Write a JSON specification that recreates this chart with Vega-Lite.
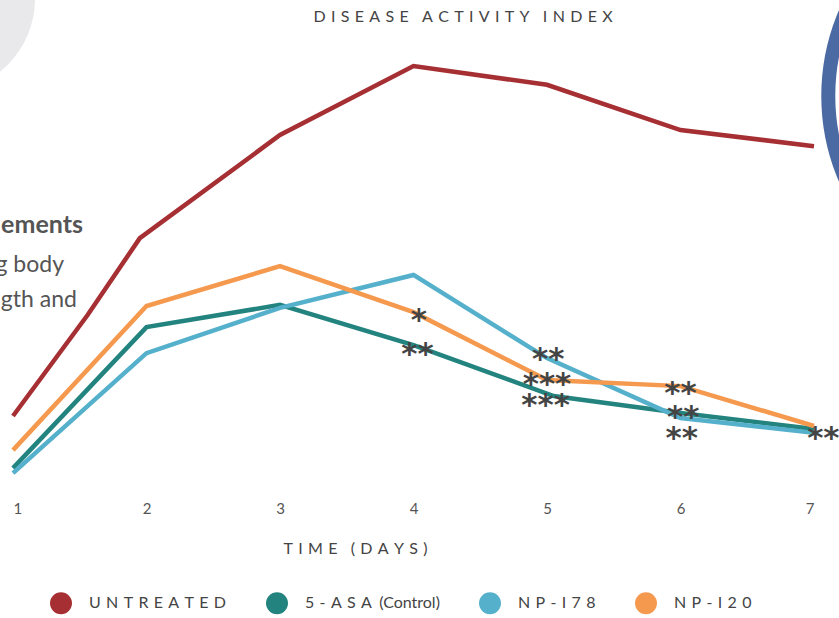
{
  "$schema": "https://vega.github.io/schema/vega-lite/v6.json",
  "width": 801,
  "height": 460,
  "autosize": {"type": "none"},
  "padding": {"left": 13, "top": 30, "right": 25, "bottom": 128},
  "background": "white",
  "config": {"view": {"stroke": null}, "font": "Lato"},
  "encoding": {
    "x": {
      "field": "day",
      "type": "quantitative",
      "scale": {"domain": [1, 7], "nice": false, "zero": false},
      "axis": {
        "values": [1, 2, 3, 4, 5, 6, 7],
        "format": "d",
        "domain": false,
        "ticks": false,
        "grid": false,
        "labelFont": "Lato",
        "labelFontSize": 15,
        "labelColor": "#555555",
        "labelPadding": 11,
        "labelBaseline": "top",
        "title": "T\u2004I\u2004M\u2004E\u2002\u2004(\u2004D\u2004A\u2004Y\u2004S\u2004)",
        "titleFont": "Lato",
        "titleFontSize": 16,
        "titleFontWeight": "normal",
        "titleColor": "#444444",
        "titleX": 342,
        "titleY": 63,
        "titleAlign": "center",
        "titleBaseline": "alphabetic"
      }
    },
    "y": {
      "field": "dai",
      "type": "quantitative",
      "scale": {"domain": [0, 12], "nice": false, "zero": false},
      "axis": null
    }
  },
  "layer": [
    {
      "data": {"values": [{"day": 0.468, "dai": 12.81}]},
      "mark": {"type": "point", "shape": "circle", "filled": true, "color": "#e9e8ea", "opacity": 1, "size": 34596}
    },
    {
      "data": {"values": [{"day": 8.68, "dai": 10.28}]},
      "mark": {"type": "point", "shape": "circle", "filled": false, "color": "#4b6aa3", "strokeWidth": 14, "opacity": 1, "size": 176400}
    },
    {
      "data": {"values": [{"day": 4.371, "dai": 12.21, "txt": "D\u2004I\u2004S\u2004E\u2004A\u2004S\u2004E\u2002\u2004A\u2004C\u2004T\u2004I\u2004V\u2004I\u2004T\u2004Y\u2002\u2004I\u2004N\u2004D\u2004E\u2004X"}]},
      "mark": {"type": "text", "align": "center", "baseline": "alphabetic", "font": "Lato", "fontSize": 16, "color": "#444444"},
      "encoding": {"text": {"field": "txt", "type": "nominal"}}
    },
    {
      "data": {"values": [{"day": 1.524, "dai": 6.7, "txt": "ements"}]},
      "mark": {"type": "text", "align": "right", "baseline": "alphabetic", "font": "Lato", "fontSize": 25, "fontWeight": "bold", "color": "#555555"},
      "encoding": {"text": {"field": "txt", "type": "nominal"}}
    },
    {
      "data": {"values": [{"day": 1.382, "dai": 5.69, "txt": "g body"}, {"day": 1.479, "dai": 4.77, "txt": "ngth and"}]},
      "mark": {"type": "text", "align": "right", "baseline": "alphabetic", "font": "Lato", "fontSize": 23, "fontWeight": "normal", "color": "#555555"},
      "encoding": {"text": {"field": "txt", "type": "nominal"}}
    },
    {
      "data": {"values": [
        {"series": "UNTREATED", "day": 1, "dai": 1.93},
        {"series": "UNTREATED", "day": 1.56, "dai": 4.57},
        {"series": "UNTREATED", "day": 1.95, "dai": 6.57},
        {"series": "UNTREATED", "day": 3, "dai": 9.26},
        {"series": "UNTREATED", "day": 4, "dai": 11.06},
        {"series": "UNTREATED", "day": 5, "dai": 10.57},
        {"series": "UNTREATED", "day": 6, "dai": 9.39},
        {"series": "UNTREATED", "day": 7, "dai": 8.97},
        {"series": "5-ASA (Control)", "day": 1, "dai": 0.57},
        {"series": "5-ASA (Control)", "day": 2, "dai": 4.25},
        {"series": "5-ASA (Control)", "day": 3, "dai": 4.83},
        {"series": "5-ASA (Control)", "day": 4, "dai": 3.78},
        {"series": "5-ASA (Control)", "day": 5.05, "dai": 2.45},
        {"series": "5-ASA (Control)", "day": 6, "dai": 2.01},
        {"series": "5-ASA (Control)", "day": 7, "dai": 1.59},
        {"series": "NP-178", "day": 1, "dai": 0.44},
        {"series": "NP-178", "day": 2, "dai": 3.57},
        {"series": "NP-178", "day": 3, "dai": 4.75},
        {"series": "NP-178", "day": 4, "dai": 5.61},
        {"series": "NP-178", "day": 5, "dai": 3.44},
        {"series": "NP-178", "day": 6, "dai": 1.88},
        {"series": "NP-178", "day": 7, "dai": 1.49},
        {"series": "NP-120", "day": 1, "dai": 1.04},
        {"series": "NP-120", "day": 2, "dai": 4.8},
        {"series": "NP-120", "day": 3, "dai": 5.84},
        {"series": "NP-120", "day": 4, "dai": 4.64},
        {"series": "NP-120", "day": 5, "dai": 2.87},
        {"series": "NP-120", "day": 6, "dai": 2.71},
        {"series": "NP-120", "day": 7, "dai": 1.67}
      ]},
      "mark": {"type": "line", "strokeWidth": 4.5, "strokeJoin": "miter"},
      "encoding": {
        "color": {
          "field": "series",
          "type": "nominal",
          "scale": {
            "domain": ["UNTREATED", "5-ASA (Control)", "NP-178", "NP-120"],
            "range": ["#a62f33", "#23847f", "#55b0cb", "#f5994f"]
          },
          "legend": {
            "orient": "none",
            "direction": "horizontal",
            "legendX": 37,
            "legendY": 562,
            "title": null,
            "symbolType": "circle",
            "symbolSize": 121,
            "symbolStrokeWidth": 11,
            "symbolOpacity": 1,
            "labelFont": "Lato",
            "labelFontSize": 16,
            "labelColor": "#444444",
            "labelOffset": 17,
            "columnPadding": 22,
            "labelLimit": 400,
            "labelExpr": "datum.label == 'UNTREATED' ? 'U\u2004N\u2004T\u2004R\u2004E\u2004A\u2004T\u2004E\u2004D' : datum.label == 'NP-178' ? 'N\u2004P\u2004-\u2004I\u20047\u20048' : datum.label == 'NP-120' ? 'N\u2004P\u2004-\u2004I\u20042\u20040' : '5\u2004-\u2004A\u2004S\u2004A\u2004\u2009(Control)'"
          }
        }
      }
    },
    {
      "data": {"values": [
        {"day": 4.04, "dai": 4.62, "sig": "*"},
        {"day": 4.03, "dai": 3.73, "sig": "**"},
        {"day": 5.01, "dai": 3.6, "sig": "**"},
        {"day": 5.0, "dai": 2.95, "sig": "***"},
        {"day": 4.99, "dai": 2.4, "sig": "***"},
        {"day": 6.0, "dai": 2.71, "sig": "**"},
        {"day": 6.02, "dai": 2.09, "sig": "**"},
        {"day": 6.01, "dai": 1.54, "sig": "**"},
        {"day": 7.07, "dai": 1.54, "sig": "**"}
      ]},
      "mark": {"type": "text", "align": "center", "baseline": "alphabetic", "dy": 17, "font": "DejaVu Sans", "fontWeight": "bold", "fontSize": 31, "color": "#444444"},
      "encoding": {"text": {"field": "sig", "type": "nominal"}}
    }
  ]
}
